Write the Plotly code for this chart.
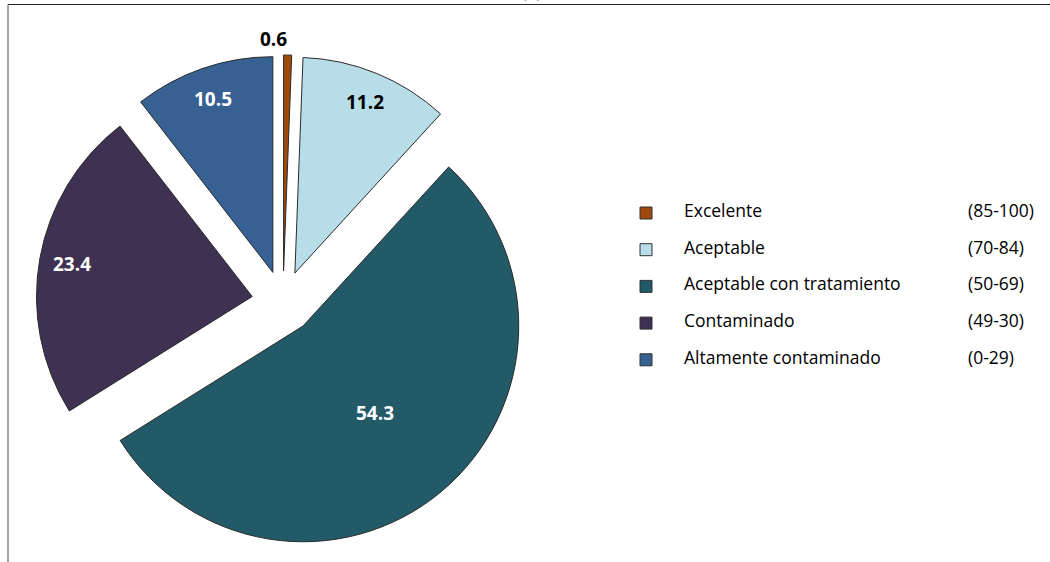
import math
import plotly.graph_objects as go

# Water quality index classes and their share (%) of sampled sites
categories = ["Excelente", "Aceptable", "Aceptable con tratamiento", "Contaminado", "Altamente contaminado"]
ranges = ["(85-100)", "(70-84)", "(50-69)", "(49-30)", "(0-29)"]
values = [0.6, 11.2, 54.3, 23.4, 10.5]

colors = ["#A0490E", "#B7DDE8", "#235A68", "#3F3151", "#376093"]
label_colors = ["#000000", "#000000", "#FFFFFF", "#FFFFFF", "#FFFFFF"]
# radial placement of each value label, as a fraction of the radius
label_radius = [1.075, 0.855, 0.525, 0.85, 0.85]
label_xshift = [-14, 0, 0, 0, 0]

W, H = 1050, 562
FONT = "Open Sans"
PULL = 0.145

# pie box in pixels (square)
BOX_X0, BOX_X1 = 36, 530
BOX_Y0, BOX_Y1 = 55, 549


def px_x(x):
    return x / W


def px_y(y):
    return 1 - y / H


fig = go.Figure(
    go.Pie(
        labels=categories,
        values=values,
        sort=False,
        direction="clockwise",
        rotation=0,
        pull=PULL,
        marker=dict(colors=colors, line=dict(color="#2a2a2a", width=1)),
        textinfo="none",
        domain=dict(x=[px_x(BOX_X0), px_x(BOX_X1)], y=[px_y(BOX_Y1), px_y(BOX_Y0)]),
        showlegend=False,
        hoverinfo="label+value",
    )
)

shapes = []
annotations = []

# Value labels placed along each slice's mid-angle, using the pie's own geometry
cx = (BOX_X0 + BOX_X1) / 2
cy = (BOX_Y0 + BOX_Y1) / 2
r = min(BOX_X1 - BOX_X0, BOX_Y1 - BOX_Y0) / 2 / (1 + PULL)
total = sum(values)
start = 0.0
for v, col, frac, dx in zip(values, label_colors, label_radius, label_xshift):
    mid = (start + v / 2) / total * 2 * math.pi
    start += v
    dist = (PULL + frac) * r
    annotations.append(dict(
        text=f"<b>{v:.1f}</b>", xref="paper", yref="paper",
        x=px_x(cx + dist * math.sin(mid)), y=px_y(cy - dist * math.cos(mid)),
        xanchor="center", yanchor="middle", showarrow=False, xshift=dx,
        font=dict(family=FONT, size=19, color=col),
    ))

# Hand-built legend: swatch, class name and index range on each row
row_y0, row_step = 210, 36.7
for i, (cat, rng, col) in enumerate(zip(categories, ranges, colors)):
    yc = row_y0 + i * row_step
    shapes.append(dict(
        type="rect", xref="paper", yref="paper",
        x0=px_x(640), x1=px_x(652), y0=px_y(yc + 9), y1=px_y(yc - 3),
        fillcolor=col, line=dict(color="#333333", width=1),
    ))
    annotations.append(dict(
        text=cat, xref="paper", yref="paper", x=px_x(682), y=px_y(yc),
        xanchor="left", yanchor="middle", showarrow=False,
        font=dict(family=FONT, size=17.5, color="#000000"),
    ))
    annotations.append(dict(
        text=rng, xref="paper", yref="paper", x=px_x(966), y=px_y(yc),
        xanchor="left", yanchor="middle", showarrow=False,
        font=dict(family=FONT, size=17.5, color="#000000"),
    ))

# Panel tag sitting above the frame
annotations.append(dict(
    text="(b)", xref="paper", yref="paper", x=px_x(532), y=px_y(5),
    xanchor="center", yanchor="bottom", showarrow=False,
    font=dict(family=FONT, size=16, color="#000000"),
))

# Frame: top rule and left rule
shapes.append(dict(type="line", xref="paper", yref="paper",
                   x0=px_x(8), x1=1, y0=px_y(4.5), y1=px_y(4.5),
                   line=dict(color="#222222", width=1.2)))
shapes.append(dict(type="line", xref="paper", yref="paper",
                   x0=px_x(8), x1=px_x(8), y0=px_y(4.5), y1=0,
                   line=dict(color="#888888", width=1.5)))

fig.update_layout(
    width=W, height=H,
    margin=dict(l=0, r=0, t=0, b=0, pad=0, autoexpand=False),
    paper_bgcolor="white", plot_bgcolor="white",
    shapes=shapes, annotations=annotations,
    font=dict(family=FONT),
    showlegend=False,
)

fig.write_html("out.html")
